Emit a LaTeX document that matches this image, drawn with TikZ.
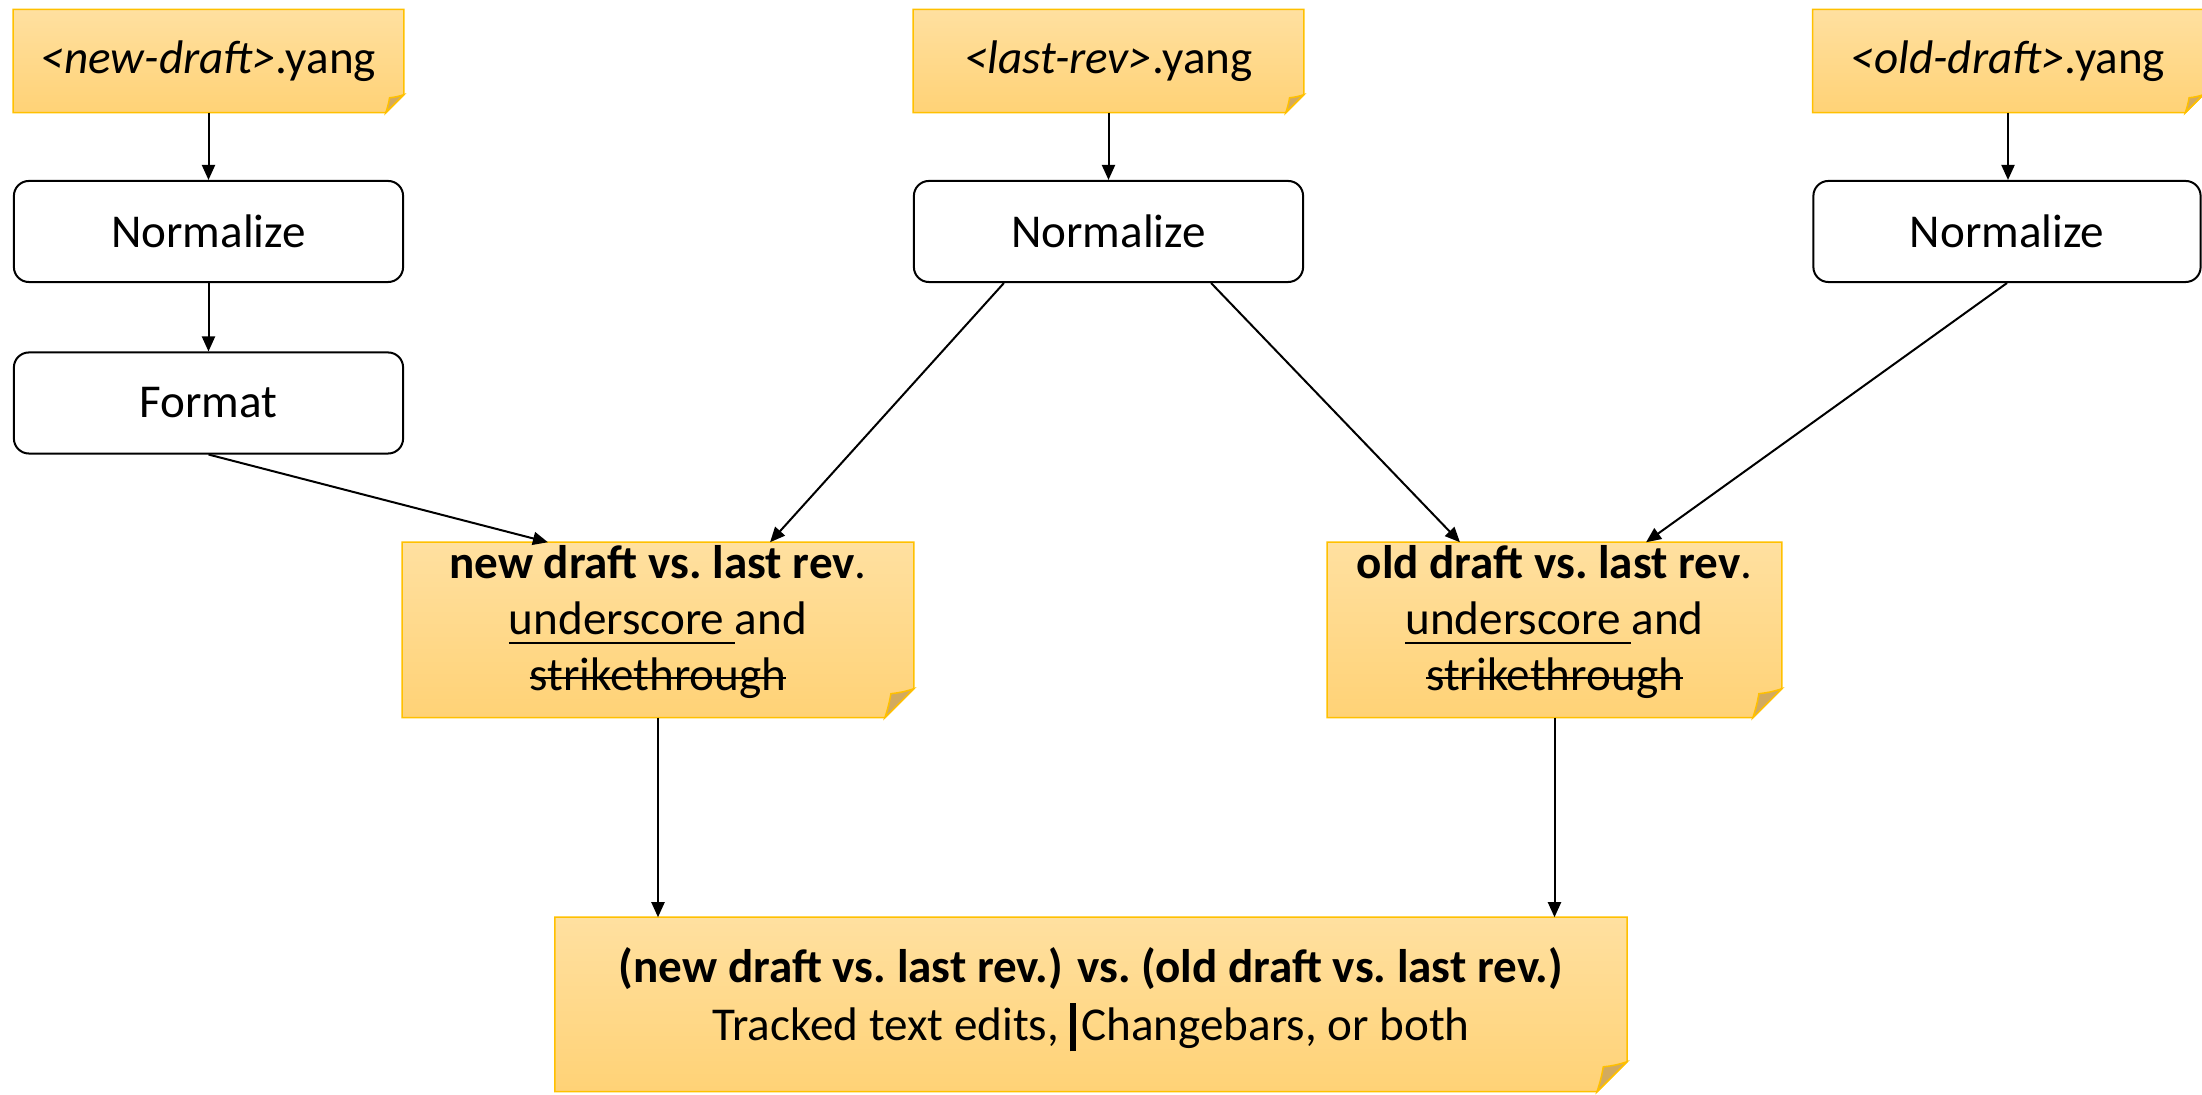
\documentclass[tikz,border=0pt]{standalone}
\usepackage{fontspec}
\setmainfont{Carlito}
\usetikzlibrary{arrows.meta, positioning, backgrounds}
\definecolor{notetop}{RGB}{255,224,160}
\definecolor{notebot}{RGB}{255,210,118}
\definecolor{notegold}{RGB}{255,192,0}
\definecolor{notefold}{RGB}{210,170,95}
\tikzset{>={Triangle[length=0.15cm,width=0.13cm]}}
\newsavebox{\markbox}
\newcommand{\underscored}[1]{\sbox{\markbox}{#1}\rlap{\rule[-0.2em]{\wd\markbox}{0.6pt}}\usebox{\markbox}}
\newcommand{\struck}[1]{\sbox{\markbox}{#1}\rlap{\rule[0.25em]{\wd\markbox}{0.6pt}}\usebox{\markbox}}
\newcommand{\chgbar}{\rule[-0.22em]{0.13em}{1.02em}}
\newcommand{\lowstrut}[1]{\rule[-#1]{0pt}{#1}}
% sticky note behind a node: name, fold size
\newcommand{\notebg}[2]{%
  \path[top color=notetop, bottom color=notebot, draw=notegold, line width=0.015cm]
    (#1.north west) -- (#1.north east) -- ([yshift=#2]#1.south east)
    -- ([xshift=-#2]#1.south east) -- (#1.south west) -- cycle;
  \path[fill=notefold, draw=notegold, line width=0.015cm]
    ([yshift=#2]#1.south east) to[bend left=6] ([xshift=-0.79*#2,yshift=0.83*#2]#1.south east)
    to[bend left=4] ([xshift=-#2]#1.south east) -- cycle;
}

\begin{document}
\begin{tikzpicture}[x=0.01cm, y=-0.01cm, font=\fontsize{13.4pt}{15.9pt}\selectfont,
    note/.style={inner sep=0pt, align=center},
    procbox/.style={draw, line width=0.02cm, rounded corners=0.15cm, fill=white,
        minimum width=3.89cm, minimum height=1.01cm, inner sep=0pt},
    flow/.style={->, line width=0.02cm}]
    \useasboundingbox (0,0) rectangle (2202,1095);

    % Input files
    \node[note, minimum width=3.89cm, minimum height=1.02cm] (newf) at (208.5,61) {\textit{<new-draft>}.yang};
    \node[note, minimum width=3.89cm, minimum height=1.02cm] (lastf) at (1108.5,61) {\textit{<last-rev>}.yang};
    \node[note, minimum width=3.89cm, minimum height=1.02cm] (oldf) at (2008,61) {\textit{<old-draft>}.yang};

    % Processing steps
    \node[procbox] (norm1) at (208.5,231.5) {Normalize};
    \node[procbox] (fmt) at (208.5,403) {Format};
    \node[procbox] (norm2) at (1108.5,231.5) {Normalize};
    \node[procbox, minimum width=3.87cm] (norm3) at (2007,231.5) {Normalize};

    % Comparisons
    \node[note, minimum width=5.10cm, minimum height=1.74cm] (newvs) at (658,630)
        {\textbf{new draft vs.\ last rev}.\\ \underscored{underscore\ }and\\ \struck{strikethrough}\lowstrut{0.24cm}};
    \node[note, minimum width=4.53cm, minimum height=1.74cm] (oldvs) at (1554.5,630)
        {\textbf{old draft vs.\ last rev}.\\ \underscored{underscore\ }and\\ \struck{strikethrough}\lowstrut{0.24cm}};
    \node[note, minimum width=10.70cm, minimum height=1.73cm] (final) at (1091,1004.5)
        {\textbf{(new draft vs.\ last rev.) vs.\ (old draft vs.\ last rev.)}\\[0.03cm]
         Tracked text edits, \chgbar\hspace{0.12em}Changebars, or both\lowstrut{0.21cm}};

    % Sticky note backgrounds
    \begin{scope}[on background layer]
        \notebg{newf}{0.18cm}
        \notebg{lastf}{0.18cm}
        \notebg{oldf}{0.18cm}
        \notebg{newvs}{0.29cm}
        \notebg{oldvs}{0.29cm}
        \notebg{final}{0.30cm}
    \end{scope}

    % Arrows
    \draw[flow] (newf) -- (norm1);
    \draw[flow] (norm1) -- (fmt);
    \draw[flow] (lastf) -- (norm2);
    \draw[flow] (oldf.south) -- (oldf.south |- norm3.north);
    \draw[flow] (fmt.south) -- ([xshift=-1.1cm]newvs.north);
    \draw[flow] ([xshift=-1.045cm]norm2.south) -- ([xshift=1.12cm]newvs.north);
    \draw[flow] ([xshift=1.025cm]norm2.south) -- ([xshift=-0.945cm]oldvs.north);
    \draw[flow] (norm3.south) -- ([xshift=0.915cm]oldvs.north);
    \draw[flow] (newvs.south) -- (newvs.south |- final.north);
    \draw[flow] (oldvs.south) -- (oldvs.south |- final.north);
\end{tikzpicture}
\end{document}
